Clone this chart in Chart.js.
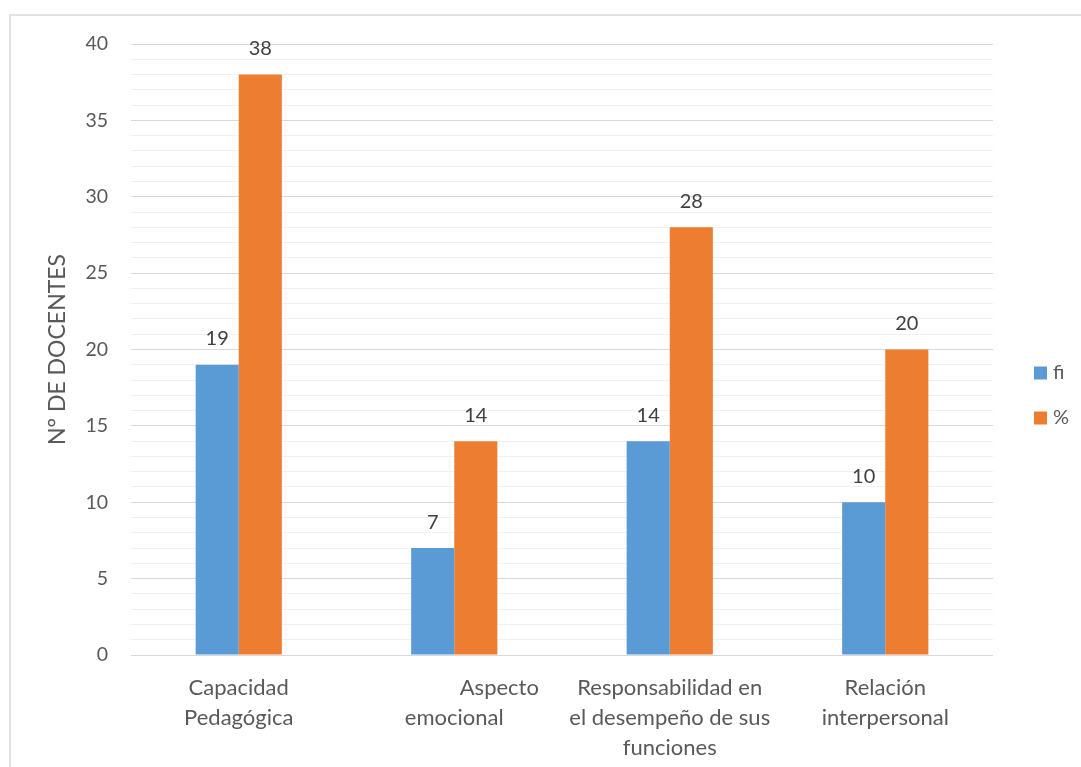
<!DOCTYPE html>
<html>
<head>
<meta charset="utf-8">
<script src="https://cdn.jsdelivr.net/npm/chart.js@4/dist/chart.umd.min.js"></script>
<style>
  html, body { margin: 0; padding: 0; background: #ffffff; }
  #wrap { width: 1081px; height: 767px; }
</style>
</head>
<body>
<div id="wrap"><canvas id="chart" width="1081" height="767"></canvas></div>
<script>
// Dimension labels (multi-line), values per series
const aspectoIndent = ' '.repeat(16);
const categories = [
  ['Capacidad', 'Pedagógica'],
  [aspectoIndent + 'Aspecto', 'emocional'],
  ['Responsabilidad en', 'el desempeño de sus', 'funciones'],
  ['Relación', 'interpersonal']
];
const fiValues = [19, 7, 14, 10];
const pctValues = [38, 14, 28, 20];
const seriesNames = ['fi', '%'];
const seriesColors = ['#5B9BD5', '#ED7D31'];
const yTitle = 'N° DE DOCENTES';
const yMin = 0, yMax = 40, yLabelStep = 5;

const FONT = 'Lato, Carlito, Calibri, sans-serif';
const TEXT = '#595959';

// Light frame around the whole figure
const framePlugin = {
  id: 'frame',
  beforeDraw(chart) {
    const ctx = chart.ctx;
    ctx.save();
    ctx.strokeStyle = '#d9d9d9';
    ctx.lineWidth = 1.5;
    ctx.strokeRect(10, 15, 1200, 900);
    ctx.restore();
  }
};

// Value labels above each bar
const valueLabels = {
  id: 'valueLabels',
  afterDatasetsDraw(chart) {
    const ctx = chart.ctx;
    ctx.save();
    ctx.font = '20px ' + FONT;
    ctx.fillStyle = '#404040';
    ctx.textAlign = 'center';
    ctx.textBaseline = 'middle';
    chart.data.datasets.forEach((ds, i) => {
      chart.getDatasetMeta(i).data.forEach((el, j) => {
        ctx.fillText(String(ds.data[j]), el.x, el.y - 26);
      });
    });
    ctx.restore();
  }
};

// Vertical legend to the right of the plot
const sideLegend = {
  id: 'sideLegend',
  afterDraw(chart) {
    const ctx = chart.ctx;
    ctx.save();
    ctx.font = '20px ' + FONT;
    ctx.textBaseline = 'middle';
    ctx.textAlign = 'left';
    chart.data.datasets.forEach((ds, i) => {
      const cy = 373 + i * 45;
      ctx.fillStyle = ds.backgroundColor;
      ctx.fillRect(1034, cy - 6.5, 13, 13);
      ctx.fillStyle = TEXT;
      ctx.fillText(ds.label, 1053, cy);
    });
    ctx.restore();
  }
};

new Chart(document.getElementById('chart'), {
  type: 'bar',
  data: {
    labels: categories,
    datasets: [
      { label: seriesNames[0], data: fiValues, backgroundColor: seriesColors[0] },
      { label: seriesNames[1], data: pctValues, backgroundColor: seriesColors[1] }
    ]
  },
  options: {
    responsive: false,
    animation: false,
    devicePixelRatio: 1,
    layout: { padding: { left: 0, top: 44, right: 88, bottom: 0 } },
    datasets: { bar: { categoryPercentage: 0.4, barPercentage: 1.0 } },
    plugins: {
      legend: { display: false },
      tooltip: { enabled: false }
    },
    scales: {
      x: {
        grid: { display: false },
        border: { display: false },
        ticks: {
          color: TEXT,
          padding: 10,
          maxRotation: 0,
          autoSkip: false,
          font: { family: FONT, size: 22, lineHeight: 1.36 }
        },
        afterFit(scale) { scale.height = 112; }
      },
      y: {
        min: yMin,
        max: yMax,
        border: { display: false },
        grid: {
          drawTicks: false,
          lineWidth: 1,
          color: (c) => (c.tick && c.tick.value % yLabelStep === 0) ? '#d9d9d9' : '#f0f0f0'
        },
        ticks: {
          stepSize: 1,
          autoSkip: false,
          padding: 23,
          color: TEXT,
          font: { family: FONT, size: 19.5 },
          callback: (v) => (v % yLabelStep === 0 ? v : '')
        },
        title: {
          display: true,
          text: yTitle,
          color: TEXT,
          font: { family: FONT, size: 23 },
          padding: { top: 44, bottom: 0 }
        },
        afterFit(scale) { scale.width = 131; }
      }
    }
  },
  plugins: [framePlugin, valueLabels, sideLegend]
});
</script>
</body>
</html>
